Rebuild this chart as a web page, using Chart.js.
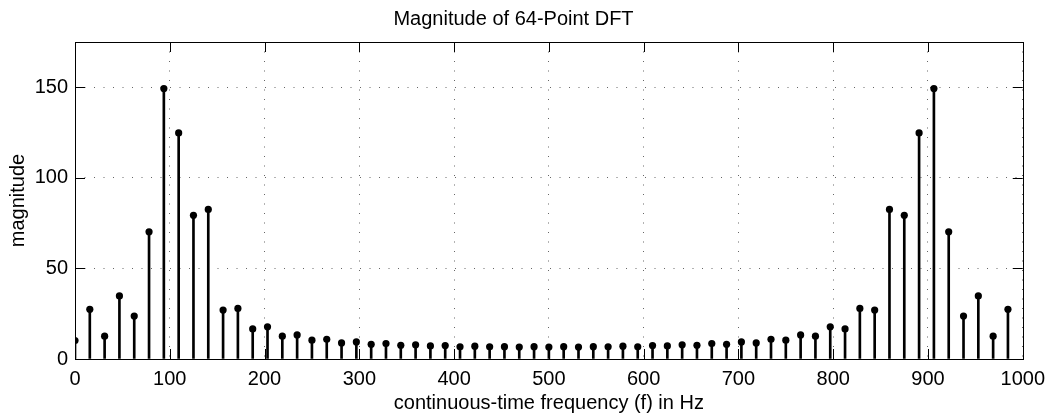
<!DOCTYPE html>
<html>
<head>
<meta charset="utf-8">
<script src="https://cdn.jsdelivr.net/npm/chart.js@4/dist/chart.umd.min.js"></script>
<style>
  html, body { margin: 0; padding: 0; background: #fff; }
  #wrap { width: 1053px; height: 417px; }
</style>
</head>
<body>
<div id="wrap"><canvas id="dft"></canvas></div>
<script>
// DFT bin frequencies (Hz), fs = 1000, N = 64
const frequencies = [
  0, 15.625, 31.25, 46.875, 62.5, 78.125, 93.75, 109.375,
  125, 140.625, 156.25, 171.875, 187.5, 203.125, 218.75, 234.375,
  250, 265.625, 281.25, 296.875, 312.5, 328.125, 343.75, 359.375,
  375, 390.625, 406.25, 421.875, 437.5, 453.125, 468.75, 484.375,
  500, 515.625, 531.25, 546.875, 562.5, 578.125, 593.75, 609.375,
  625, 640.625, 656.25, 671.875, 687.5, 703.125, 718.75, 734.375,
  750, 765.625, 781.25, 796.875, 812.5, 828.125, 843.75, 859.375,
  875, 890.625, 906.25, 921.875, 937.5, 953.125, 968.75, 984.375
];

// |X[k]|
const magnitudes = [
  10.2, 27.4, 12.6, 34.8, 23.7, 70.2, 149.3, 124.8,
  79.3, 82.6, 27.0, 27.9, 16.6, 17.8, 12.6, 13.3,
  10.4, 10.9, 8.9, 9.4, 8.1, 8.5, 7.6, 7.8,
  7.2, 7.4, 6.7, 7.1, 6.7, 6.8, 6.6, 6.8,
  6.6, 6.8, 6.6, 6.8, 6.7, 7.1, 6.7, 7.4,
  7.2, 7.8, 7.6, 8.5, 8.1, 9.4, 8.9, 10.9,
  10.4, 13.3, 12.6, 17.8, 16.6, 27.9, 27.0, 82.6,
  79.3, 124.8, 149.3, 70.2, 23.7, 34.8, 12.6, 27.4
];

const xTicks = [0, 100, 200, 300, 400, 500, 600, 700, 800, 900, 1000];
const yTicks = [0, 50, 100, 150];

const FONT = "'Liberation Sans', Arial, Helvetica, sans-serif";

const points = frequencies.map((f, i) => ({ x: f, y: magnitudes[i] }));

// MATLAB style box with ticks pointing inwards
const boxTicks = {
  id: 'boxTicks',
  afterDraw(chart) {
    const { ctx, chartArea: a, scales: { x, y } } = chart;
    const len = 10;
    ctx.save();
    ctx.strokeStyle = '#000';
    ctx.lineWidth = 1;
    ctx.setLineDash([]);
    ctx.beginPath();
    xTicks.forEach(v => {
      const px = Math.round(x.getPixelForValue(v)) + 0.5;
      ctx.moveTo(px, a.bottom); ctx.lineTo(px, a.bottom - len);
      ctx.moveTo(px, a.top); ctx.lineTo(px, a.top + len);
    });
    yTicks.forEach(v => {
      const py = Math.round(y.getPixelForValue(v)) + 0.5;
      ctx.moveTo(a.left, py); ctx.lineTo(a.left + len, py);
      ctx.moveTo(a.right, py); ctx.lineTo(a.right - len, py);
    });
    ctx.stroke();
    ctx.strokeRect(Math.round(a.left) + 0.5, Math.round(a.top) + 0.5,
      Math.round(a.right - a.left), Math.round(a.bottom - a.top));
    ctx.restore();
  }
};

new Chart(document.getElementById('dft'), {
  type: 'bar',
  data: {
    datasets: [
      {
        type: 'scatter',
        data: points,
        pointRadius: 3.6,
        pointBackgroundColor: '#000',
        pointBorderWidth: 0,
        showLine: false,
        order: 0
      },
      {
        type: 'bar',
        data: points,
        backgroundColor: '#000',
        barThickness: 2,
        grouped: false,
        order: 1
      }
    ]
  },
  options: {
    responsive: true,
    maintainAspectRatio: false,
    animation: false,
    layout: { padding: { left: 0, right: 26, top: 0, bottom: 0 } },
    plugins: {
      legend: { display: false },
      tooltip: { enabled: false },
      title: {
        display: true,
        text: 'Magnitude of 64-Point DFT',
        color: '#000',
        font: { family: FONT, size: 20, weight: 'normal' },
        padding: { top: 7, bottom: 11 }
      }
    },
    scales: {
      x: {
        type: 'linear',
        min: 0,
        max: 1000,
        offset: false,
        afterBuildTicks: s => { s.ticks = xTicks.map(v => ({ value: v })); },
        afterFit: s => { s.height = 58; },
        ticks: {
          color: '#000', padding: 8, maxRotation: 0,
          font: { family: FONT, size: 20 },
          callback: v => String(v)
        },
        grid: { color: '#666', lineWidth: 1, drawTicks: false, offset: false },
        border: { display: false, dash: [1, 8.5] },
        title: {
          display: true,
          text: 'continuous-time frequency (f) in Hz',
          color: '#000',
          font: { family: FONT, size: 20 },
          padding: { top: 0, bottom: 2 }
        }
      },
      y: {
        min: 0,
        max: 175,
        afterBuildTicks: s => { s.ticks = yTicks.map(v => ({ value: v })); },
        afterFit: s => { s.width = 75; },
        ticks: {
          color: '#000', padding: 7,
          font: { family: FONT, size: 20 },
          callback: v => String(v)
        },
        grid: { color: '#666', lineWidth: 1, drawTicks: false },
        border: { display: false, dash: [1, 8.5] },
        title: {
          display: true,
          text: 'magnitude',
          color: '#000',
          font: { family: FONT, size: 20 },
          padding: { top: 6, bottom: 0 }
        }
      }
    }
  },
  plugins: [boxTicks]
});
</script>
</body>
</html>
